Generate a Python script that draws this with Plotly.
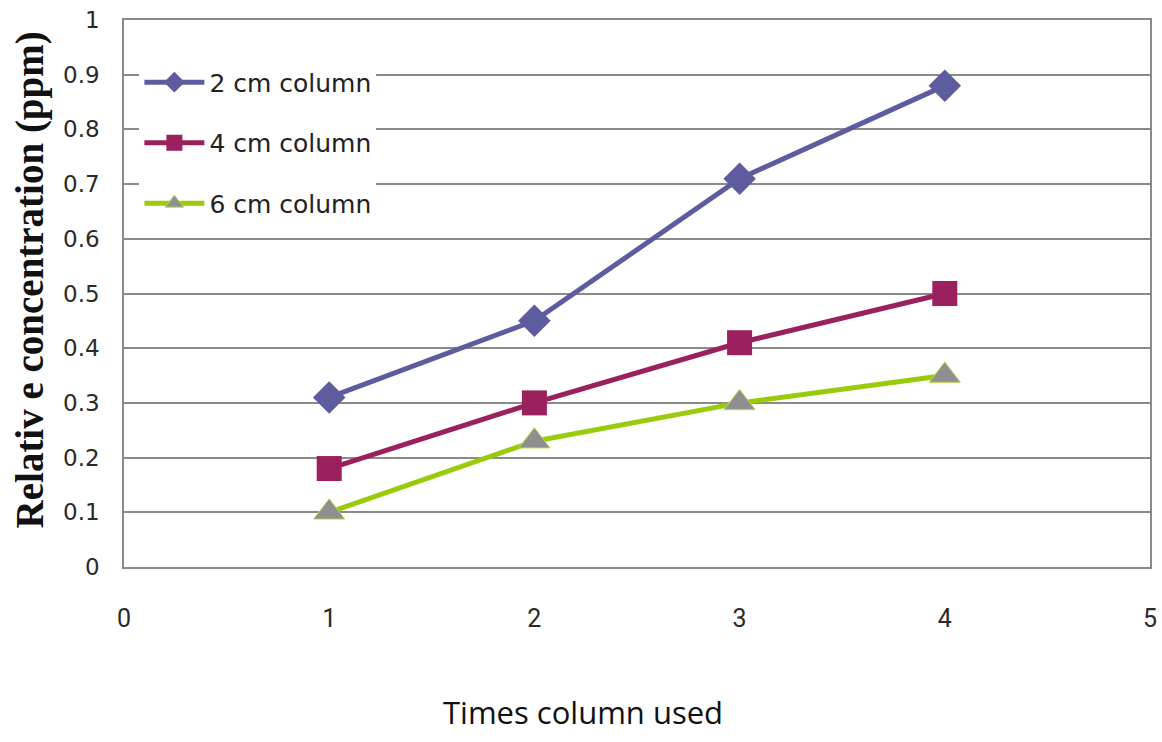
import plotly.graph_objects as go

# Times each column was used
times_used = [1, 2, 3, 4]

# Relative concentration (ppm) per column length
conc_2cm = [0.31, 0.45, 0.71, 0.88]
conc_4cm = [0.18, 0.30, 0.41, 0.50]
conc_6cm = [0.10, 0.23, 0.30, 0.35]

series_names = ["2 cm column", "4 cm column", "6 cm column"]

x_ticks = [0, 1, 2, 3, 4, 5]
y_ticks = [0, 0.1, 0.2, 0.3, 0.4, 0.5, 0.6, 0.7, 0.8, 0.9, 1]
y_tick_text = ["0", "0.1", "0.2", "0.3", "0.4", "0.5", "0.6", "0.7", "0.8", "0.9", "1"]

fig = go.Figure()

fig.add_trace(go.Scatter(
    x=times_used, y=conc_2cm, name=series_names[0], mode="lines+markers",
    line=dict(color="#5c5c9e", width=5),
    marker=dict(symbol="diamond", size=25, color="#5c5c9e"),
    legendgroup="a",
))
fig.add_trace(go.Scatter(
    x=times_used, y=conc_4cm, name=series_names[1], mode="lines+markers",
    line=dict(color="#9a205e", width=5),
    marker=dict(symbol="square", size=25, color="#9a205e"),
    legendgroup="b",
))
fig.add_trace(go.Scatter(
    x=times_used, y=conc_6cm, name=series_names[2], mode="lines+markers",
    line=dict(color="#9acb0a", width=5),
    marker=dict(symbol="triangle-up", size=27, color="#8f8f8f",
                line=dict(color="#b8d84a", width=1)),
    legendgroup="c",
))

fig.update_layout(
    width=1162, height=742,
    margin=dict(l=124, r=12, t=20, b=175, autoexpand=False),
    paper_bgcolor="white", plot_bgcolor="white",
    showlegend=True,
    legend=dict(
        x=0.015, y=0.928, xanchor="left", yanchor="top",
        bgcolor="white", borderwidth=0,
        font=dict(family="DejaVu Sans", size=25, color="#222222"),
        tracegroupgap=25, itemwidth=60,
    ),
    xaxis=dict(
        range=[0, 5], tickvals=x_ticks, showgrid=False, zeroline=False,
        showline=True, linecolor="#8a8a8a", linewidth=1.5, mirror=True,
        ticks="", ticklabelstandoff=28, automargin=False,
        tickfont=dict(family="Roboto", size=25, color="#2a2a2a"),
    ),
    yaxis=dict(
        range=[0, 1], tickvals=y_ticks, ticktext=y_tick_text,
        showgrid=True, gridcolor="#8a8a8a", gridwidth=1.5, zeroline=False,
        showline=True, linecolor="#8a8a8a", linewidth=1.5, mirror=True,
        ticks="", ticklabelstandoff=18, automargin=False,
        tickfont=dict(family="DejaVu Sans", size=23, color="#2a2a2a"),
    ),
)

# Axis titles placed as free text
fig.add_annotation(
    text="<b>Relativ e concentration (ppm)</b>", xref="paper", yref="paper",
    x=-0.092, y=0.525, xanchor="center", yanchor="middle", showarrow=False,
    textangle=-90,
    font=dict(family="Liberation Serif", size=39, color="#111111"),
)
fig.add_annotation(
    text="Times column used", xref="paper", yref="paper",
    x=0.447, y=-0.265, xanchor="center", yanchor="middle", showarrow=False,
    font=dict(family="Open Sans", size=31, color="#111111"),
)

fig.write_html("out.html")
